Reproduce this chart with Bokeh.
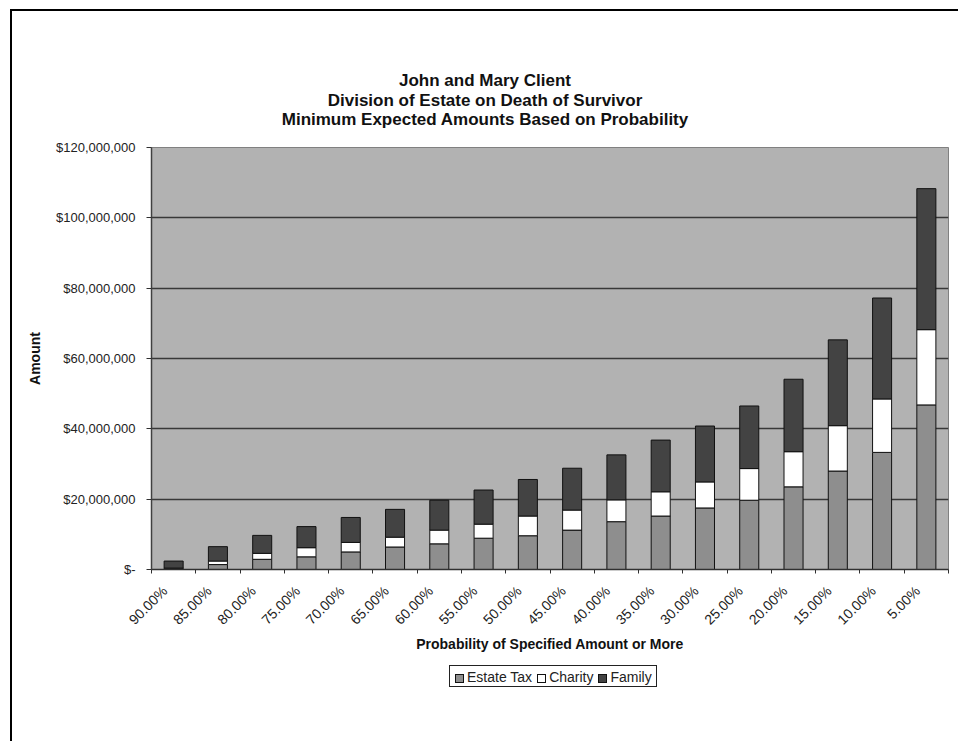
import numpy as np
from bokeh.plotting import figure
from bokeh.layouts import column
from bokeh.models import ColumnDataSource, Range1d, LinearAxis, FixedTicker, Div
from bokeh.embed import file_html
from bokeh.resources import INLINE

# ---------------- data (amounts in millions of dollars) ----------------
categories = ["90.00%", "85.00%", "80.00%", "75.00%", "70.00%", "65.00%", "60.00%", "55.00%", "50.00%",
              "45.00%", "40.00%", "35.00%", "30.00%", "25.00%", "20.00%", "15.00%", "10.00%", "5.00%"]
estate_tax = [0.2, 1.4, 2.9, 3.6, 5.0, 6.4, 7.3, 8.9, 9.6, 11.2, 13.6, 15.2, 17.5, 19.7, 23.5, 28.0, 33.3, 46.8]
charity = [0.2, 1.0, 1.7, 2.6, 2.7, 2.8, 3.9, 4.0, 5.6, 5.7, 6.2, 6.9, 7.4, 9.0, 10.0, 12.9, 15.2, 21.4]
family = [2.0, 4.1, 5.1, 6.0, 7.1, 7.9, 8.5, 9.7, 10.4, 11.9, 12.8, 14.7, 15.9, 17.8, 20.6, 24.4, 28.7, 40.1]

y_ticks = [0, 20, 40, 60, 80, 100, 120]
y_tick_labels = ["$-", "$20,000,000", "$40,000,000", "$60,000,000", "$80,000,000", "$100,000,000", "$120,000,000"]

title_lines = ["John and Mary Client",
               "Division of Estate on Death of Survivor",
               "Minimum Expected Amounts Based on Probability"]
series_names = ["Estate Tax", "Charity", "Family"]
series_colors = ["#8e8e8e", "#ffffff", "#434343"]

FONT = "Liberation Sans"
M = 1_000_000
n = len(categories)
centers = [i + 0.5 for i in range(n)]          # category slot centres on a 0..n axis
bounds = list(range(n + 1))                    # category slot boundaries
label_pos = [c - 0.2 for c in centers]         # rotated labels end slightly left of the slot centre

source = ColumnDataSource(dict(
    x=centers,
    cat=categories,
    estate=[v * M for v in estate_tax],
    charity=[v * M for v in charity],
    family=[v * M for v in family],
))

W = 946
p = figure(width=W, height=522,
           x_range=Range1d(0, n), y_range=Range1d(0, y_ticks[-1] * M),
           x_axis_location=None,
           output_backend="svg", toolbar_location=None,
           min_border_left=139, min_border_right=10, min_border_top=10, min_border_bottom=90,
           background_fill_color="#b2b2b2", border_fill_color="white")

p.outline_line_color = "#808080"
p.xgrid.visible = False

# y axis
p.yaxis.ticker = FixedTicker(ticks=[t * M for t in y_ticks])
p.yaxis.major_label_overrides = {int(t * M): lbl for t, lbl in zip(y_ticks, y_tick_labels)}
p.yaxis.major_label_text_font = FONT
p.yaxis.major_label_text_font_size = "13px"
p.yaxis.major_label_text_color = "#222222"
p.yaxis.major_label_standoff = 11
p.yaxis.major_tick_in = 0
p.yaxis.major_tick_out = 5
p.yaxis.major_tick_line_color = "#303030"
p.yaxis.minor_tick_line_color = None
p.yaxis.axis_line_color = "#404040"
p.yaxis.axis_line_width = 1.5
p.yaxis.axis_label = "Amount"
p.yaxis.axis_label_text_font = FONT
p.yaxis.axis_label_text_font_style = "bold"
p.yaxis.axis_label_text_font_size = "14px"
p.yaxis.axis_label_text_color = "#111111"
p.yaxis.axis_label_standoff = 10

p.ygrid.ticker = FixedTicker(ticks=[t * M for t in y_ticks])
p.ygrid.grid_line_color = "#383838"
p.ygrid.grid_line_width = 1.5

# x axis: category labels, tick marks (minor) on slot boundaries
x_axis = LinearAxis(ticker=FixedTicker(ticks=label_pos, minor_ticks=bounds),
                    major_label_overrides={c: lbl for c, lbl in zip(label_pos, categories)},
                    major_tick_line_color=None, major_tick_in=0, major_tick_out=0,
                    minor_tick_line_color="#303030", minor_tick_in=0, minor_tick_out=4,
                    axis_line_color="#303030", axis_line_width=1.5,
                    major_label_orientation=np.pi / 4,
                    major_label_text_font=FONT, major_label_text_font_size="14px",
                    major_label_text_color="#222222",
                    major_label_standoff=15,
                    axis_label="Probability of Specified Amount or More",
                    axis_label_text_font=FONT, axis_label_text_font_style="bold",
                    axis_label_text_font_size="14px", axis_label_text_color="#111111",
                    axis_label_standoff=0)
p.add_layout(x_axis, "below")

# stacked bars
renderers = p.vbar_stack(["estate", "charity", "family"], x="x", width=0.43, source=source,
                         fill_color=series_colors, line_color="#111111", line_width=1)

# title (HTML block above the plot)
title_html = (
    f'<div style="width:{W}px;height:126px;text-align:center;font-family:\'{FONT}\';'
    f'font-weight:bold;font-size:17px;line-height:19.5px;color:#111;padding-top:60px;'
    f'box-sizing:border-box;">' + "<br>".join(title_lines) + "</div>"
)
title_div = Div(text=title_html, width=W, height=126, margin=0)

# legend (HTML block below the plot)
items_html = "".join(
    f'<span style="display:inline-block;width:9px;height:9px;background:{c};border:1px solid #111;'
    f'margin:0 3px 0 5px;vertical-align:-1px;"></span>{nm}'
    for nm, c in zip(series_names, series_colors)
)
legend_html = (
    f'<div style="position:relative;width:{W}px;height:82px;">'
    f'<div style="position:absolute;left:437px;top:6px;height:22px;line-height:22px;padding:0 4px 0 0;'
    f'border:1.5px solid #222;font-family:\'{FONT}\';font-size:14px;color:#222;white-space:nowrap;'
    f'background:#fff;">' + items_html + "</div></div>"
)
legend_div = Div(text=legend_html, width=W, height=82, margin=0)

page = column(title_div, p, legend_div, spacing=0,
              styles={"margin-left": "10px", "margin-top": "9px",
                      "border-left": "2px solid #000", "border-top": "2px solid #000"})

open("out.html", "w").write(file_html(page, INLINE))
